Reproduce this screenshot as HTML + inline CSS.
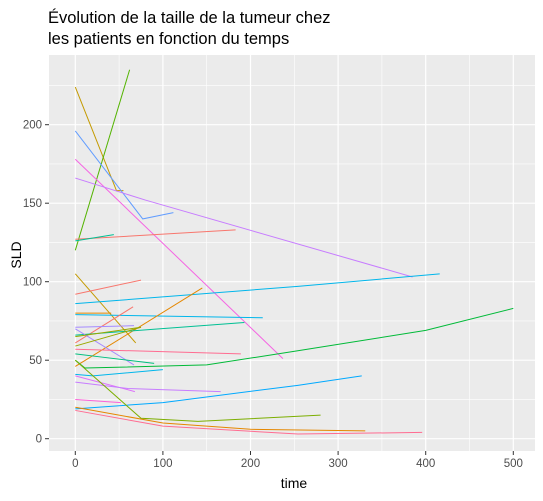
<!DOCTYPE html>
<html><head><meta charset="utf-8"><style>
body{margin:0;background:#fff;font-family:"Liberation Sans",Arial,sans-serif}
svg text{font-family:"Liberation Sans",Arial,sans-serif}
</style></head><body>
<svg id="chart" width="543" height="496">
<text x="48" y="23" font-size="16.5" fill="#000">Évolution de la taille de la tumeur chez</text>
<text x="48" y="44" font-size="16.5" fill="#000">les patients en fonction du temps</text>
<rect x="49" y="55" width="486" height="396" fill="#EBEBEB"/>
<g id="grid"></g><g id="lines"></g><g id="axes"></g>
<text x="21" y="255" font-size="14" fill="#000" text-anchor="middle" transform="rotate(-90 21 255)">SLD</text>
<text x="294" y="488" font-size="14" fill="#000" text-anchor="middle">time</text>
</svg>
<script>
const xTicks=[0,100,200,300,400,500];
const yTicks=[0,50,100,150,200];
const xMinor=[50,150,250,350,450];
const yMinor=[25,75,125,175,225];
const s1=[[0,224],[47,158],[55,158]];
const s2=[[0,120],[62,235]];
const s3=[[0,196],[77,140],[112,144]];
const s4=[[0,178],[237,51]];
const s5=[[0,166],[80,152],[385,103]];
const s6=[[0,127],[183,133]];
const s7=[[0,126],[44,130]];
const s8=[[0,105],[69,61]];
const s9=[[0,92],[75,101]];
const s10=[[0,86],[254,97],[416,105]];
const s11=[[0,80],[41,80]];
const s12=[[0,79],[214,77]];
const s13=[[0,61],[66,84]];
const s14=[[0,46],[145,96]];
const s15=[[0,66],[193,74]];
const s16=[[0,71],[67,72]];
const s17=[[0,70],[67,47]];
const s18=[[0,65],[75,71]];
const s19=[[0,59],[75,71]];
const s20=[[0,57],[189,54]];
const s21=[[0,54],[30,52],[90,48]];
const s22=[[0,50],[11,45],[150,47],[254,56],[400,69],[500,83]];
const s23=[[0,41],[20,40],[100,44]];
const s24=[[0,19],[100,23],[254,34],[327,40]];
const s25=[[0,40],[68,30]];
const s26=[[0,36],[60,32],[166,30]];
const s27=[[0,50],[75,13],[140,11],[280,15]];
const s28=[[0,20],[100,10],[200,6],[331,5]];
const s29=[[0,18],[100,8],[254,3],[396,4]];
const s30=[[0,25],[52,23]];
const series=[s1,s2,s3,s4,s5,s6,s7,s8,s9,s10,s11,s12,s13,s14,s15,s16,s17,s18,s19,s20,s21,s22,s23,s24,s25,s26,s27,s28,s29,s30];
const colors=["#C49A00","#53B400","#619CFF","#F564E3","#C77CFF","#F8766D","#00C094","#C49A00","#F8766D","#00B6EB","#E58700","#00B6EB","#F8766D","#E58700","#00C094","#A58AFF","#A58AFF","#99A800","#99A800","#FF6C91","#00BF7D","#00BA38","#00B6EB","#00A9FF","#DC71FA","#C77CFF","#7CAE00","#E58700","#FF6C91","#FB61D7"];
const ns="http://www.w3.org/2000/svg";
const X=t=>75.3+t*0.876, Y=v=>438.7-v*1.57;
const grid=document.getElementById('grid'),ax=document.getElementById('axes'),lg=document.getElementById('lines');
function ln(g,x1,y1,x2,y2,c,w){const l=document.createElementNS(ns,'line');l.setAttribute('x1',x1);l.setAttribute('y1',y1);l.setAttribute('x2',x2);l.setAttribute('y2',y2);l.setAttribute('stroke',c);l.setAttribute('stroke-width',w);g.appendChild(l);return l;}
function tx(x,y,s,a){const t=document.createElementNS(ns,'text');t.setAttribute('x',x);t.setAttribute('y',y);t.setAttribute('font-size','11.5');t.setAttribute('fill','#4D4D4D');t.setAttribute('text-anchor',a);t.textContent=s;ax.appendChild(t);return t;}
xMinor.forEach(v=>{const l=ln(grid,X(v),55,X(v),451,'#fff',0.6);

});
yMinor.forEach(v=>{const l=ln(grid,49,Y(v),535,Y(v),'#fff',0.6);

});
xTicks.forEach(v=>{const l=ln(grid,X(v),55,X(v),451,'#fff',1.2);


ln(ax,X(v),451,X(v),455,'#333',1);
const t=tx(X(v),467,String(v),'middle');

});
yTicks.forEach(v=>{const l=ln(grid,49,Y(v),535,Y(v),'#fff',1.2);


ln(ax,45,Y(v),49,Y(v),'#333',1);
const t=tx(42,Y(v)+4,String(v),'end');

});
series.forEach((s,i)=>{const p=document.createElementNS(ns,'polyline');
p.setAttribute('points',s.map(d=>X(d[0])+','+Y(d[1])).join(' '));
p.setAttribute('fill','none');p.setAttribute('stroke',colors[i]);p.setAttribute('stroke-width','1');


lg.appendChild(p);});
</script>
</body></html>
